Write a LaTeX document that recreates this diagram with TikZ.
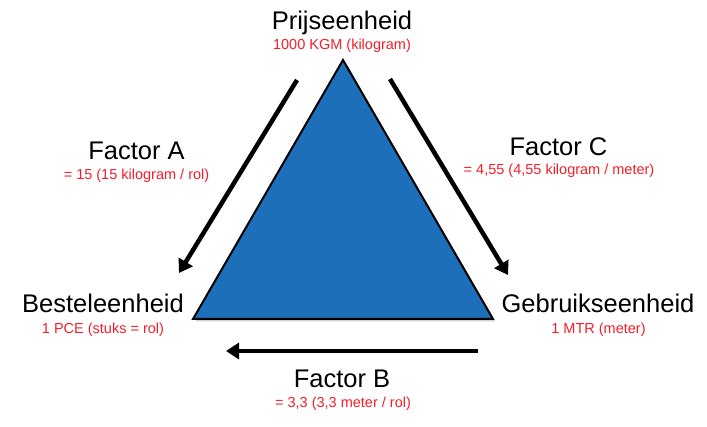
\documentclass[tikz,border=0pt]{standalone}
\usepackage{fontspec}
\setmainfont{Liberation Sans}
\usetikzlibrary{arrows.meta,shadows}
\definecolor{triblue}{RGB}{30,111,186}
\definecolor{valred}{RGB}{245,30,40}
\tikzset{
  unitlabel/.style={anchor=base,inner sep=0pt,font=\fontsize{25.5}{28}\selectfont,text=black},
  vallabel/.style={anchor=base,inner sep=0pt,font=\fontsize{14.5}{16}\selectfont,text=valred},
  convarrow/.style={line width=4.5pt,-{Triangle[length=13pt,width=16pt]},
    drop shadow={opacity=0.2,shadow xshift=1.5pt,shadow yshift=-1.5pt}},
}
\begin{document}
\begin{tikzpicture}[x=1pt,y=-1pt]
\useasboundingbox (0,0) rectangle (707,427);
% triangle
\coordinate (apex) at (343,60);
\coordinate (bl) at (193,319);
\coordinate (br) at (493,319);
\fill[black,opacity=0.18] ([shift={(2.5,2.5)}]apex) -- ([shift={(2.5,2.5)}]br) -- ([shift={(2.5,2.5)}]bl) -- cycle;
\draw[fill=triblue,line width=2pt,line join=miter] (apex) -- (br) -- (bl) -- cycle;
% labels
\node[unitlabel] (prijs) at (342,30) {Prijseenheid};
\node[vallabel] (prijsv) at (342,50) {1000 KGM (kilogram)};
\node[unitlabel] (best) at (103,313) {Besteleenheid};
\node[vallabel] (bestv) at (103,334) {1 PCE (stuks = rol)};
\node[unitlabel] (gebr) at (598,313) {Gebruikseenheid};
\node[vallabel] (gebrv) at (598.5,334) {1 MTR (meter)};
\node[unitlabel] (facA) at (136.5,160) {Factor A};
\node[vallabel] (facAv) at (136.5,180) {= 15 (15 kilogram / rol)};
\node[unitlabel] (facC) at (558.5,156) {Factor C};
\node[vallabel] (facCv) at (559,175) {= 4,55 (4,55 kilogram / meter)};
\node[unitlabel] (facB) at (342,388) {Factor B};
\node[vallabel] (facBv) at (343,408) {= 3,3 (3,3 meter / rol)};
% arrows
\coordinate (aS) at (297,80);
\coordinate (aE) at (179,273);
\coordinate (cS) at (390,79);
\coordinate (cE) at (508,275);
\coordinate (bS) at (478,351);
\coordinate (bE) at (226,351);
\draw[convarrow] (aS) -- (aE);
\draw[convarrow] (cS) -- (cE);
\draw[convarrow] (bS) -- (bE);
\end{tikzpicture}
\end{document}
